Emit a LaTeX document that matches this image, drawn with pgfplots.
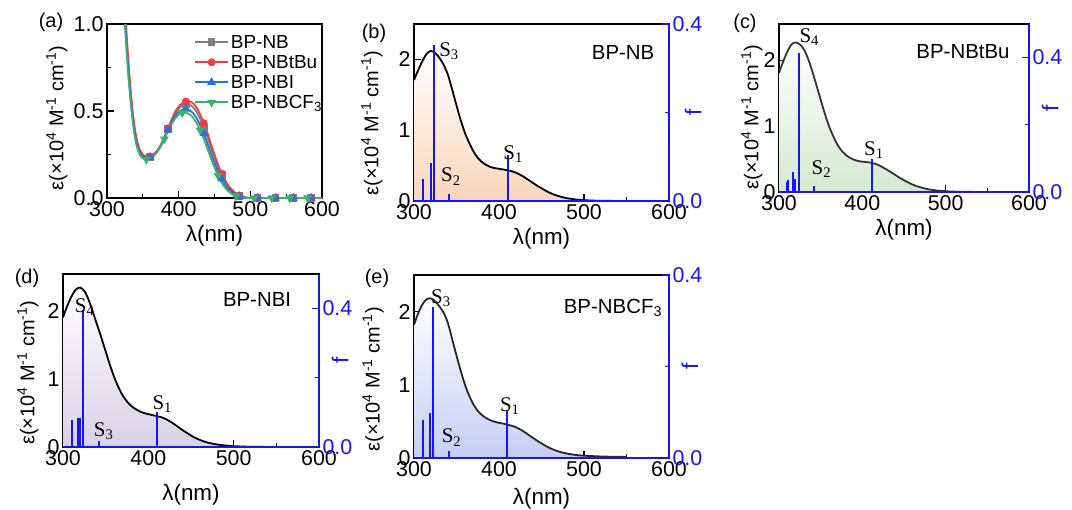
\documentclass[border=0pt]{standalone}
\usepackage{pgfplots}
\usepackage{pgfplotstable}
\pgfplotsset{compat=1.18}
\usepackage{fontspec}
\setmainfont{Liberation Sans}
\newfontfamily\serifS{Liberation Serif}
\definecolor{fblue}{RGB}{20,20,255}
\definecolor{cgray}{RGB}{128,128,128}
\definecolor{cred}{RGB}{240,60,60}
\definecolor{cblue}{RGB}{35,115,225}
\definecolor{cgreen}{RGB}{60,175,110}
\definecolor{peach}{RGB}{249,214,186}
\definecolor{lgreen}{RGB}{212,234,208}
\definecolor{lav}{RGB}{216,209,230}
\definecolor{lblue}{RGB}{196,206,246}

\pgfplotstableread{
x nb tbu nbi cf
320 1.46 1.50 1.40 1.35
325 1.07 1.10 1.03 0.99
330 0.75 0.78 0.72 0.69
335 0.51 0.53 0.49 0.47
340 0.355 0.37 0.34 0.325
345 0.275 0.285 0.265 0.255
350 0.245 0.25 0.238 0.228
355 0.235 0.238 0.23 0.222
360 0.236 0.238 0.232 0.225
365 0.248 0.25 0.245 0.24
370 0.27 0.272 0.268 0.265
375 0.302 0.305 0.30 0.297
380 0.345 0.35 0.343 0.338
385 0.395 0.40 0.39 0.382
390 0.443 0.45 0.435 0.423
395 0.485 0.495 0.47 0.457
400 0.513 0.525 0.494 0.478
405 0.532 0.545 0.508 0.49
410 0.54 0.555 0.512 0.49
415 0.537 0.555 0.505 0.482
420 0.522 0.545 0.488 0.463
425 0.495 0.52 0.46 0.432
430 0.455 0.48 0.42 0.39
435 0.405 0.43 0.37 0.34
440 0.35 0.375 0.315 0.285
445 0.29 0.31 0.258 0.228
450 0.232 0.25 0.203 0.175
455 0.177 0.19 0.153 0.128
460 0.13 0.14 0.11 0.088
465 0.092 0.10 0.076 0.058
470 0.062 0.068 0.05 0.036
475 0.04 0.045 0.031 0.021
480 0.024 0.027 0.018 0.011
485 0.012 0.014 0.009 0.005
490 0.005 0.006 0.003 0.002
495 0.001 0.002 0.001 0
500 0 0 0 0
505 0 0 0 0
510 0 0 0 0
515 0 0 0 0
520 0 0 0 0
525 0 0 0 0
530 0 0 0 0
535 0 0 0 0
540 0 0 0 0
545 0 0 0 0
550 0 0 0 0
555 0 0 0 0
560 0 0 0 0
565 0 0 0 0
570 0 0 0 0
575 0 0 0 0
580 0 0 0 0
585 0 0 0 0
590 0 0 0 0
595 0 0 0 0
600 0 0 0 0
}\tabA

\pgfplotstableread{
x y
300 1.71
305 1.85
310 1.98
315 2.08
320 2.12
325 2.09
330 2.02
335 1.92
340 1.78
345 1.57
350 1.35
355 1.14
360 0.96
365 0.82
370 0.70
375 0.61
380 0.55
385 0.51
390 0.48
395 0.465
400 0.455
405 0.445
410 0.435
415 0.42
420 0.40
425 0.37
430 0.335
435 0.295
440 0.255
445 0.215
450 0.18
455 0.145
460 0.115
465 0.09
470 0.07
475 0.053
480 0.04
490 0.022
500 0.012
510 0.006
520 0.003
540 0.001
560 0
600 0
}\tabB

\pgfplotstableread{
x y
300 1.81
305 1.98
310 2.13
315 2.24
320 2.27
325 2.24
330 2.16
335 2.02
340 1.83
345 1.62
350 1.40
355 1.19
360 1.00
365 0.85
370 0.72
375 0.63
380 0.565
385 0.52
390 0.49
395 0.47
400 0.46
405 0.455
410 0.445
415 0.43
420 0.405
425 0.37
430 0.335
435 0.295
440 0.255
445 0.215
450 0.18
455 0.145
460 0.115
465 0.09
470 0.07
475 0.053
480 0.04
490 0.022
500 0.012
510 0.006
520 0.003
540 0.001
560 0
590 0
}\tabC

\pgfplotstableread{
x y
300 1.91
305 2.08
310 2.22
315 2.32
320 2.35
325 2.30
330 2.17
335 1.99
340 1.80
345 1.61
350 1.41
355 1.21
360 1.03
365 0.88
370 0.76
375 0.67
380 0.605
385 0.56
390 0.525
395 0.50
400 0.485
405 0.47
410 0.455
415 0.44
420 0.415
425 0.38
430 0.34
435 0.295
440 0.25
445 0.21
450 0.17
455 0.135
460 0.107
465 0.083
470 0.064
475 0.05
480 0.038
490 0.022
500 0.013
510 0.007
520 0.004
540 0.001
560 0
575 0
}\tabD

\pgfplotstableread{
x y
300 1.82
305 1.98
310 2.10
315 2.17
320 2.18
325 2.14
330 2.07
335 1.98
340 1.84
345 1.62
350 1.40
355 1.19
360 1.00
365 0.85
370 0.73
375 0.645
380 0.585
385 0.545
390 0.515
395 0.495
400 0.48
405 0.47
410 0.455
415 0.44
420 0.42
425 0.39
430 0.355
435 0.315
440 0.275
445 0.235
450 0.20
455 0.165
460 0.135
465 0.11
470 0.09
475 0.073
480 0.06
490 0.042
500 0.032
510 0.026
520 0.021
530 0.018
540 0.016
550 0.015
}\tabE

\tikzset{
  slab/.style={anchor=base west, font=\serifS\fontsize{21}{24}\selectfont, inner sep=0pt},
  pname/.style={font=\fontsize{20.5}{24}\selectfont},
}
\pgfplotsset{
  panel/.style={
    scale only axis, anchor=south west,
    xmin=300, xmax=600, xtick={300,400,500,600}, minor x tick num=1,
    tick align=inside, xtick pos=left, ytick pos=left,
    axis line style={line width=1.4pt},
    tick style={line width=1.2pt, black},
    major tick length=7bp, minor tick length=4bp,
    tick label style={font=\fontsize{21.5}{24}\selectfont},
    /pgf/number format/assume math mode=true,
    xlabel={λ(nm)},
    ylabel={ε(×10\textsuperscript{4} M\textsuperscript{-1} cm\textsuperscript{-1})},
    ylabel style={font=\fontsize{20}{24}\selectfont},
    xlabel style={font=\fontsize{22.5}{26}\selectfont, at={(axis description cs:0.5,0)}, anchor=center, yshift=-38bp},
  },
  spec/.style={panel, ymin=0, ytick={0,1,2}, minor y tick num=1},
  sticks/.style={
    scale only axis, anchor=south west,
    xmin=300, xmax=600, ymin=0,
    axis x line=none, axis y line*=right,
    ytick={0,0.4}, minor ytick={0.2},
    tick align=inside,
    y axis line style={fblue, line width=1.4pt},
    ytick style={fblue, line width=1.2pt},
    major tick length=7bp, minor tick length=4bp,
    /pgf/number format/assume math mode=true,
    yticklabel style={fblue, font=\fontsize{21.5}{24}\selectfont,
      /pgf/number format/.cd, fixed, fixed zerofill, precision=1},
    ylabel={f},
    ylabel style={fblue, font=\fontsize{23}{26}\selectfont, anchor=center},
  },
  stick/.style={ycomb, fblue, line width=2pt, no marks},
  base/.style={fblue, line width=1.4pt, no marks},
}

\begin{document}
\begin{tikzpicture}
\useasboundingbox (0,0) rectangle (1072bp,-510bp);

% ---------------- (a)
\begin{axis}[panel, at={(107bp,-198bp)}, width=215bp, height=174bp,
  ymin=0, ymax=1, ytick={0,0.5,1}, minor y tick num=1,
  yticklabel style={/pgf/number format/.cd, fixed, fixed zerofill, precision=1},
  ylabel style={at={(axis description cs:-0.233,0.46)}, anchor=center},
  legend style={draw=none, fill=none, at={(axis description cs:0.40,0.955)}, anchor=north west,
    font=\fontsize{19}{21}\selectfont, row sep=1.5bp, inner sep=1bp},
  legend cell align=left,
  legend image code/.code={\draw[mark repeat=2, mark phase=2, #1] plot coordinates {(0bp,0bp) (16.5bp,0bp) (33bp,0bp)};},
  every axis plot/.append style={line width=1.8pt, smooth, mark repeat=5, mark phase=7, mark size=3bp}]
\addplot[cgray, mark=square*] table[x=x, y=nb] {\tabA};
\addplot[cred, mark=*] table[x=x, y=tbu] {\tabA};
\addplot[cblue, mark=triangle*, mark size=3.4bp] table[x=x, y=nbi] {\tabA};
\addplot[cgreen, mark=triangle*, mark size=3.4bp, mark options={rotate=180}] table[x=x, y=cf] {\tabA};
\legend{BP-NB, BP-NBtBu, BP-NBI, BP-NBCF\textsubscript{3}}
\end{axis}

% ---------------- (b)
\begin{axis}[spec, at={(414bp,-201bp)}, width=255bp, height=177bp, ymax=2.5,
  ylabel style={at={(axis description cs:-0.165,0.44)}, anchor=center}]
\addplot[draw=none, top color=white, bottom color=peach] table {\tabB} \closedcycle;
\addplot[black, line width=1.8pt, smooth] table {\tabB};
\node[pname] at (rel axis cs:0.82,0.84) {BP-NB};
\end{axis}
\begin{axis}[sticks, at={(414bp,-201bp)}, width=255bp, height=177bp, ymax=0.4,
  ylabel style={at={(axis description cs:1.094,0.5)}}]
\addplot[base] coordinates {(300,0) (600,0)};
\addplot[stick] coordinates {(310,0.05) (319.6,0.087) (323.5,0.352) (341.5,0.015) (410.8,0.103)};
\node[slab] at (axis cs:329.5,0.326) {S\textsubscript{3}};
\node[slab] at (axis cs:331.7,0.043) {S\textsubscript{2}};
\node[slab] at (axis cs:405,0.0936) {S\textsubscript{1}};
\end{axis}

% ---------------- (c)
\begin{axis}[spec, at={(779bp,-192bp)}, width=250bp, height=168bp, ymax=2.55,
  ylabel style={at={(axis description cs:-0.108,0.446)}, anchor=center}]
\addplot[draw=none, top color=white, bottom color=lgreen] table {\tabC} \closedcycle;
\addplot[black!80, line width=1.8pt, smooth] table {\tabC};
\node[pname] at (rel axis cs:0.736,0.833) {BP-NBtBu};
\end{axis}
\begin{axis}[sticks, at={(779bp,-192bp)}, width=250bp, height=168bp, ymax=0.5,
  ylabel style={at={(axis description cs:1.084,0.5)}}]
\addplot[base] coordinates {(300,0) (600,0)};
\addplot[stick] coordinates {(309,0.029) (311,0.035) (317,0.061) (319,0.04) (324,0.414) (342,0.017) (411.5,0.098)};
\node[slab] at (axis cs:324.4,0.446) {S\textsubscript{4}};
\node[slab] at (axis cs:339,0.051) {S\textsubscript{2}};
\node[slab] at (axis cs:402,0.11) {S\textsubscript{1}};
\end{axis}

% ---------------- (d)
\begin{axis}[spec, at={(63bp,-447bp)}, width=256bp, height=173bp, ymax=2.55,
  ylabel style={at={(axis description cs:-0.137,0.43)}, anchor=center},
  xlabel style={yshift=-10bp}]
\addplot[draw=none, top color=white, bottom color=lav] table {\tabD} \closedcycle;
\addplot[black, line width=1.8pt, smooth] table {\tabD};
\node[pname] at (rel axis cs:0.758,0.85) {BP-NBI};
\end{axis}
\begin{axis}[sticks, at={(63bp,-447bp)}, width=256bp, height=173bp, ymax=0.5,
  ylabel style={at={(axis description cs:1.082,0.5)}}]
\addplot[base] coordinates {(300,0) (600,0)};
\addplot[stick] coordinates {(311,0.078) (317,0.084) (319.5,0.085) (324,0.395) (342,0.0165) (410,0.102)};
\node[slab] at (axis cs:313.7,0.39) {S\textsubscript{4}};
\node[slab] at (axis cs:336,0.031) {S\textsubscript{3}};
\node[slab] at (axis cs:404.7,0.109) {S\textsubscript{1}};
\end{axis}

% ---------------- (e)
\begin{axis}[spec, at={(414bp,-458bp)}, width=255bp, height=183bp, ymax=2.5,
  ylabel style={at={(axis description cs:-0.16,0.43)}, anchor=center},
  xlabel style={yshift=-3bp}]
\addplot[draw=none, top color=white, bottom color=lblue] table {\tabE} \closedcycle;
\addplot[black!85, line width=1.8pt, smooth] table {\tabE};
\node[pname] at (rel axis cs:0.78,0.82) {BP-NBCF\textsubscript{3}};
\end{axis}
\begin{axis}[sticks, at={(414bp,-458bp)}, width=255bp, height=183bp, ymax=0.4,
  ylabel style={at={(axis description cs:1.082,0.5)}}]
\addplot[base] coordinates {(300,0) (590,0)};
\addplot[stick] coordinates {(310,0.084) (318.8,0.098) (322.7,0.331) (341.5,0.0145) (409.7,0.102)};
\node[slab] at (axis cs:320,0.338) {S\textsubscript{3}};
\node[slab] at (axis cs:332.5,0.033) {S\textsubscript{2}};
\node[slab] at (axis cs:401,0.102) {S\textsubscript{1}};
\end{axis}

% panel letters
\node[font=\fontsize{20}{22}\selectfont] at (51bp,-22bp) {(a)};
\node[font=\fontsize{20}{22}\selectfont] at (374bp,-33bp) {(b)};
\node[font=\fontsize{20}{22}\selectfont] at (745bp,-23bp) {(c)};
\node[font=\fontsize{20}{22}\selectfont] at (27bp,-278bp) {(d)};
\node[font=\fontsize{20}{22}\selectfont] at (377bp,-278bp) {(e)};
\end{tikzpicture}
\end{document}
